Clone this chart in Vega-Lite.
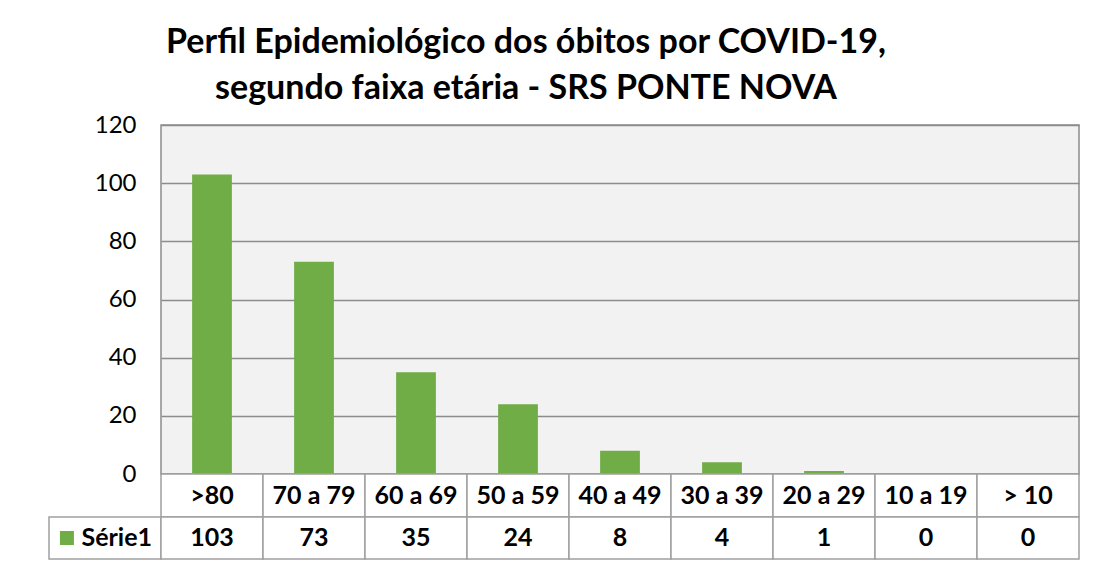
{
  "$schema": "https://vega.github.io/schema/vega-lite/v6.json",
  "background": "white",
  "padding": {"left": 48, "top": 26, "right": 10, "bottom": 10},
  "bounds": "flush",
  "spacing": 0,
  "columns": 2,
  "title": {
    "text": ["Perfil Epidemiológico dos óbitos por COVID-19,", "segundo faixa etária - SRS PONTE NOVA"],
    "font": "Lato",
    "fontSize": 34,
    "fontWeight": "bold",
    "lineHeight": 46,
    "color": "black",
    "anchor": "middle",
    "dx": -38,
    "offset": 6
  },
  "config": {
    "view": {"stroke": null},
    "concat": {"spacing": 0}
  },
  "datasets": {
    "main": [
      {"faixa": ">80", "obitos": 103},
      {"faixa": "70 a 79", "obitos": 73},
      {"faixa": "60 a 69", "obitos": 35},
      {"faixa": "50 a 59", "obitos": 24},
      {"faixa": "40 a 49", "obitos": 8},
      {"faixa": "30 a 39", "obitos": 4},
      {"faixa": "20 a 29", "obitos": 1},
      {"faixa": "10 a 19", "obitos": 0},
      {"faixa": "> 10", "obitos": 0}
    ]
  },
  "concat": [
    {
      "width": 112,
      "height": 349,
      "data": {"values": [{}]},
      "mark": {"type": "point", "opacity": 0},
      "encoding": {}
    },
    {
      "width": 918,
      "height": 349,
      "data": {"name": "main"},
      "view": {"fill": "#f2f2f2", "stroke": "#8c8c8c", "strokeWidth": 1.5},
      "mark": {"type": "bar", "color": "#70ad47"},
      "encoding": {
        "x": {
          "field": "faixa", "type": "nominal", "sort": null,
          "scale": {"paddingInner": 0.61, "paddingOuter": 0.305},
          "axis": null
        },
        "y": {
          "field": "obitos", "type": "quantitative",
          "scale": {"domain": [0, 120]},
          "axis": {
            "values": [0, 20, 40, 60, 80, 100, 120],
            "title": null,
            "tickSize": 0,
            "domain": false,
            "labelPadding": 25,
            "labelFont": "Lato",
            "labelFontSize": 24,
            "labelColor": "black",
            "gridColor": "#8c8c8c",
            "gridWidth": 1.5
          }
        }
      }
    },
    {
      "width": 112,
      "height": 43,
      "data": {"values": [{}]},
      "mark": {"type": "point", "opacity": 0},
      "encoding": {}
    },
    {
      "width": 918,
      "height": 43,
      "data": {"name": "main"},
      "encoding": {
        "x": {
          "field": "faixa", "type": "nominal", "sort": null,
          "scale": {"paddingInner": 0, "paddingOuter": 0},
          "axis": null
        }
      },
      "layer": [
        {"mark": {"type": "rect", "fill": "white", "stroke": "#a0a0a0", "strokeWidth": 1.5}},
        {
          "mark": {"type": "text", "font": "Lato", "fontSize": 25, "fontWeight": "bold", "color": "black"},
          "encoding": {"text": {"field": "faixa"}}
        }
      ]
    },
    {
      "width": 112,
      "height": 42,
      "data": {"values": [{"serie": "Série1"}]},
      "layer": [
        {
          "mark": {"type": "rect", "fill": "white", "stroke": "#a0a0a0", "strokeWidth": 1.5},
          "encoding": {
            "x": {"field": "serie", "type": "nominal", "scale": {"paddingInner": 0, "paddingOuter": 0}, "axis": null}
          }
        },
        {
          "mark": {"type": "square", "size": 196, "color": "#70ad47", "filled": true, "opacity": 1},
          "encoding": {
            "x": {"field": "serie", "type": "nominal", "bandPosition": 0.16, "axis": null}
          }
        },
        {
          "mark": {"type": "text", "font": "Lato", "fontSize": 25, "fontWeight": "bold", "color": "black", "align": "left"},
          "encoding": {
            "x": {"field": "serie", "type": "nominal", "bandPosition": 0.29, "axis": null},
            "text": {"field": "serie"}
          }
        }
      ]
    },
    {
      "width": 918,
      "height": 42,
      "data": {"name": "main"},
      "encoding": {
        "x": {
          "field": "faixa", "type": "nominal", "sort": null,
          "scale": {"paddingInner": 0, "paddingOuter": 0},
          "axis": null
        }
      },
      "layer": [
        {"mark": {"type": "rect", "fill": "white", "stroke": "#a0a0a0", "strokeWidth": 1.5}},
        {
          "mark": {"type": "text", "font": "Lato", "fontSize": 25, "fontWeight": "bold", "color": "black"},
          "encoding": {"text": {"field": "obitos"}}
        }
      ]
    }
  ]
}
